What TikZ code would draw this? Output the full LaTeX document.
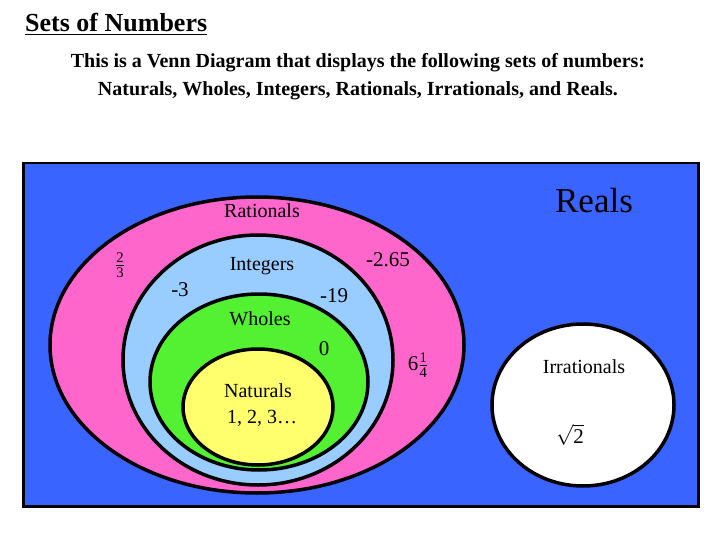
\documentclass[tikz,border=0pt]{standalone}
\usepackage{fontspec}
\setmainfont{Liberation Serif}
\usetikzlibrary{shapes.geometric}
\begin{document}
\begin{tikzpicture}[x=1pt,y=-1pt,
  ring/.style={draw=black,line width=3.5pt},
  lbl/.style={inner sep=0pt,font=\fontsize{20}{22}\selectfont},
  num/.style={inner sep=0pt,font=\fontsize{21}{22}\selectfont}]
\useasboundingbox (0,0) rectangle (720,540);
\node[rectangle,draw=black,line width=2.5pt,fill={rgb,255:red,57;green,100;blue,255},minimum width=675pt,minimum height=343pt,anchor=north west] (reals) at (22,162) {};
\node[ellipse,ring,fill={rgb,255:red,255;green,102;blue,204},minimum width=414pt,minimum height=296pt,inner sep=0pt] (rat) at (257,345) {};
\node[ellipse,ring,fill={rgb,255:red,153;green,204;blue,255},minimum width=270pt,minimum height=250pt,inner sep=0pt] (int) at (258,360) {};
\node[ellipse,ring,fill={rgb,255:red,84;green,240;blue,50},minimum width=218pt,minimum height=176pt,inner sep=0pt] (who) at (259,382) {};
\node[ellipse,ring,fill={rgb,255:red,255;green,255;blue,110},minimum width=150pt,minimum height=116pt,inner sep=0pt] (nat) at (258,407) {};
\node[ellipse,ring,fill=white,minimum width=182pt,minimum height=162pt,inner sep=0pt] (irr) at (583,405) {};
\node[anchor=west,inner sep=0pt,font=\bfseries\fontsize{26}{28}\selectfont] (title) at (25,24) {\underline{Sets of Numbers}};
\node[inner sep=0pt,font=\bfseries\fontsize{20}{22}\selectfont,align=center] (sub) at (358,77) {This is a Venn Diagram that displays the following sets of numbers:\\[6pt]Naturals, Wholes, Integers, Rationals, Irrationals, and Reals.};
\node[inner sep=0pt,font=\fontsize{35}{38}\selectfont] (lr) at (594,201) {Reals};
\node[lbl] (lrat) at (262,211) {Rationals};
\node[lbl] (lint) at (262,266) {Integers};
\node[lbl] (lwho) at (260,319) {Wholes};
\node[lbl] (lnat) at (258,391) {Naturals};
\node[lbl] (lnn) at (262,418) {1, 2, 3…};
\node[lbl] (lirr) at (584,367) {Irrationals};
\node[num] (m3) at (180,290) {-3};
\node[num] (m19) at (334,296) {-19};
\node[num] (m265) at (388,260) {-2.65};
\node[num] (z) at (324,349) {0};
\node[num] (f23) at (120,265) {$\frac{\mathrm{2}}{\mathrm{3}}$};
\node[num] (f614) at (418,365) {$\mathrm{6}\frac{\mathrm{1}}{\mathrm{4}}$};
\node[num] (s2) at (570,435) {$\sqrt{\mathrm{2}}$};
\end{tikzpicture}
\end{document}
